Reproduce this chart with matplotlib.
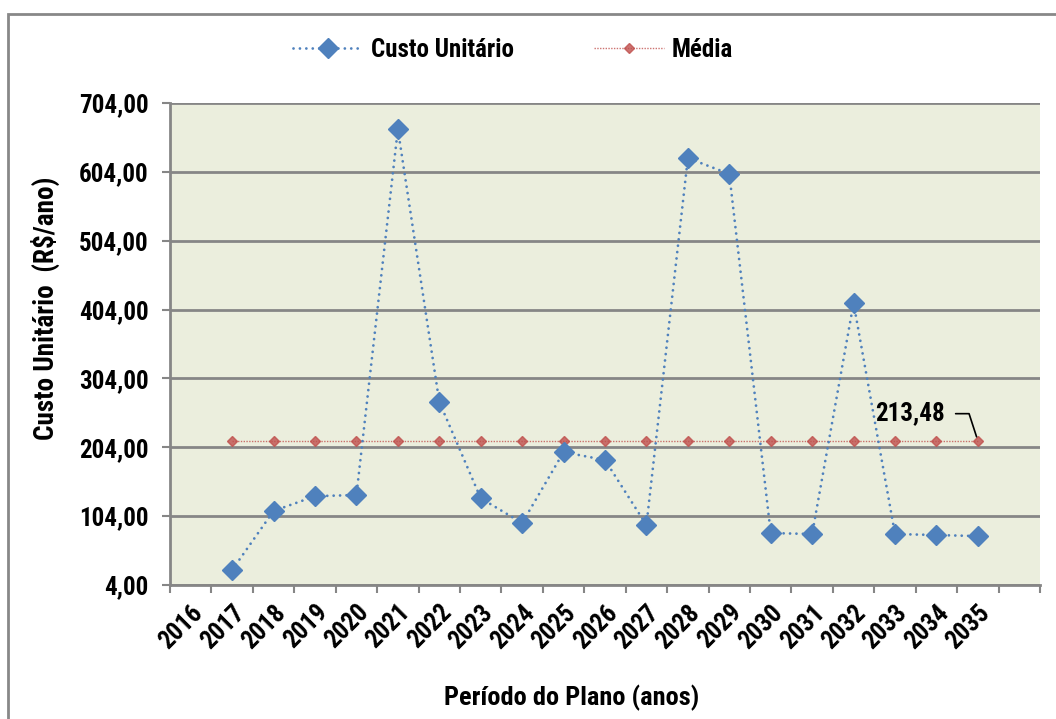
import numpy as np
import matplotlib
matplotlib.use("Agg")
import matplotlib.pyplot as plt
from matplotlib.patches import Rectangle

# data
anos = [str(a) for a in range(2016, 2036)]
custo_anos = anos[1:]  # no value for 2016
custo = [25.8, 111.5, 133.0, 134.7, 666.0, 270.0, 130.0, 94.0, 197.0, 185.5,
         91.0, 624.0, 601.0, 79.5, 78.0, 413.5, 78.0, 76.6, 75.0]
media = 213.48
y_ticks = [4, 104, 204, 304, 404, 504, 604, 704]

plt.rcParams["font.family"] = ["Roboto Condensed", "DejaVu Sans"]
plt.rcParams["font.stretch"] = "condensed"
plt.rcParams["font.weight"] = "bold"

fig = plt.figure(figsize=(10.56, 7.19), dpi=100)
ax = fig.add_axes([170 / 1056, 1 - 585 / 719, 870 / 1056, 482 / 719])
ax.set_facecolor("#EBEEDD")

pos = {a: i for i, a in enumerate(anos)}
xs = [pos[a] for a in custo_anos]

ax.plot(xs, custo, color="#4F81BD", linestyle=(0, (0.01, 2.3)), linewidth=2.0,
        dash_capstyle="round", marker="D", markersize=10.5, label="Custo Unitário",
        zorder=4)
ax.plot(xs, [media] * len(xs), color="#C0504D", linestyle=(0, (1, 1)), linewidth=1.0,
        alpha=0.8, marker="D", markersize=5.5, label="Média", zorder=3)

ax.annotate("213,48", xy=(xs[-1], media), xytext=(-24, 19.5), textcoords="offset points",
            ha="right", va="center", fontsize=18, fontweight="bold",
            arrowprops=dict(arrowstyle="-", color="black", lw=1.2, relpos=(1, 0.5),
                            shrinkA=6, shrinkB=3,
                            connectionstyle="angle,angleA=0,angleB=108,rad=0"))

ax.set_ylim(4, 704)
ax.set_yticks(y_ticks)
ax.set_yticklabels([f"{v:.2f}".replace(".", ",") for v in y_ticks], fontsize=18)
ax.yaxis.grid(True, color="#868686", linewidth=2)
ax.set_axisbelow(True)

ax.set_xlim(-0.5, len(anos) + 0.5)
ax.set_xticks(np.arange(-0.5, len(anos) + 1, 1))
ax.set_xticklabels([])
ax.set_xticks(np.arange(len(anos)), minor=True)
ax.set_xticklabels(anos, minor=True, rotation=45, ha="right", va="top",
                   rotation_mode="anchor", fontsize=18)
ax.tick_params(axis="x", which="minor", length=0, pad=11)
ax.tick_params(axis="both", which="major", length=6, width=1.5, color="#868686")
ax.tick_params(axis="y", pad=9.5)

for s in ["top", "right"]:
    ax.spines[s].set_visible(False)
for s in ["left", "bottom"]:
    ax.spines[s].set_color("#868686")
    ax.spines[s].set_linewidth(2)

fig.text(45 / 1056, 1 - 308 / 719, "Custo Unitário  (R$/ano)", rotation=90,
         ha="center", va="center", fontsize=19.5, fontweight="bold")
fig.text(572 / 1056, 1 - 698 / 719, "Período do Plano (anos)",
         ha="center", va="center", fontsize=19, fontweight="bold")

fig.legend(loc="center", bbox_to_anchor=(513 / 1056, 1 - 50 / 719), ncol=2,
           frameon=False, fontsize=18, handlelength=2.8, handletextpad=0.3,
           columnspacing=3.2)

fig.patches.append(Rectangle((8 / 1056, -0.1), 1.2, 1.1 - 14 / 719,
                             transform=fig.transFigure, fill=False,
                             edgecolor="#888888", linewidth=2, zorder=0))

fig.savefig("out.png", dpi=100)
